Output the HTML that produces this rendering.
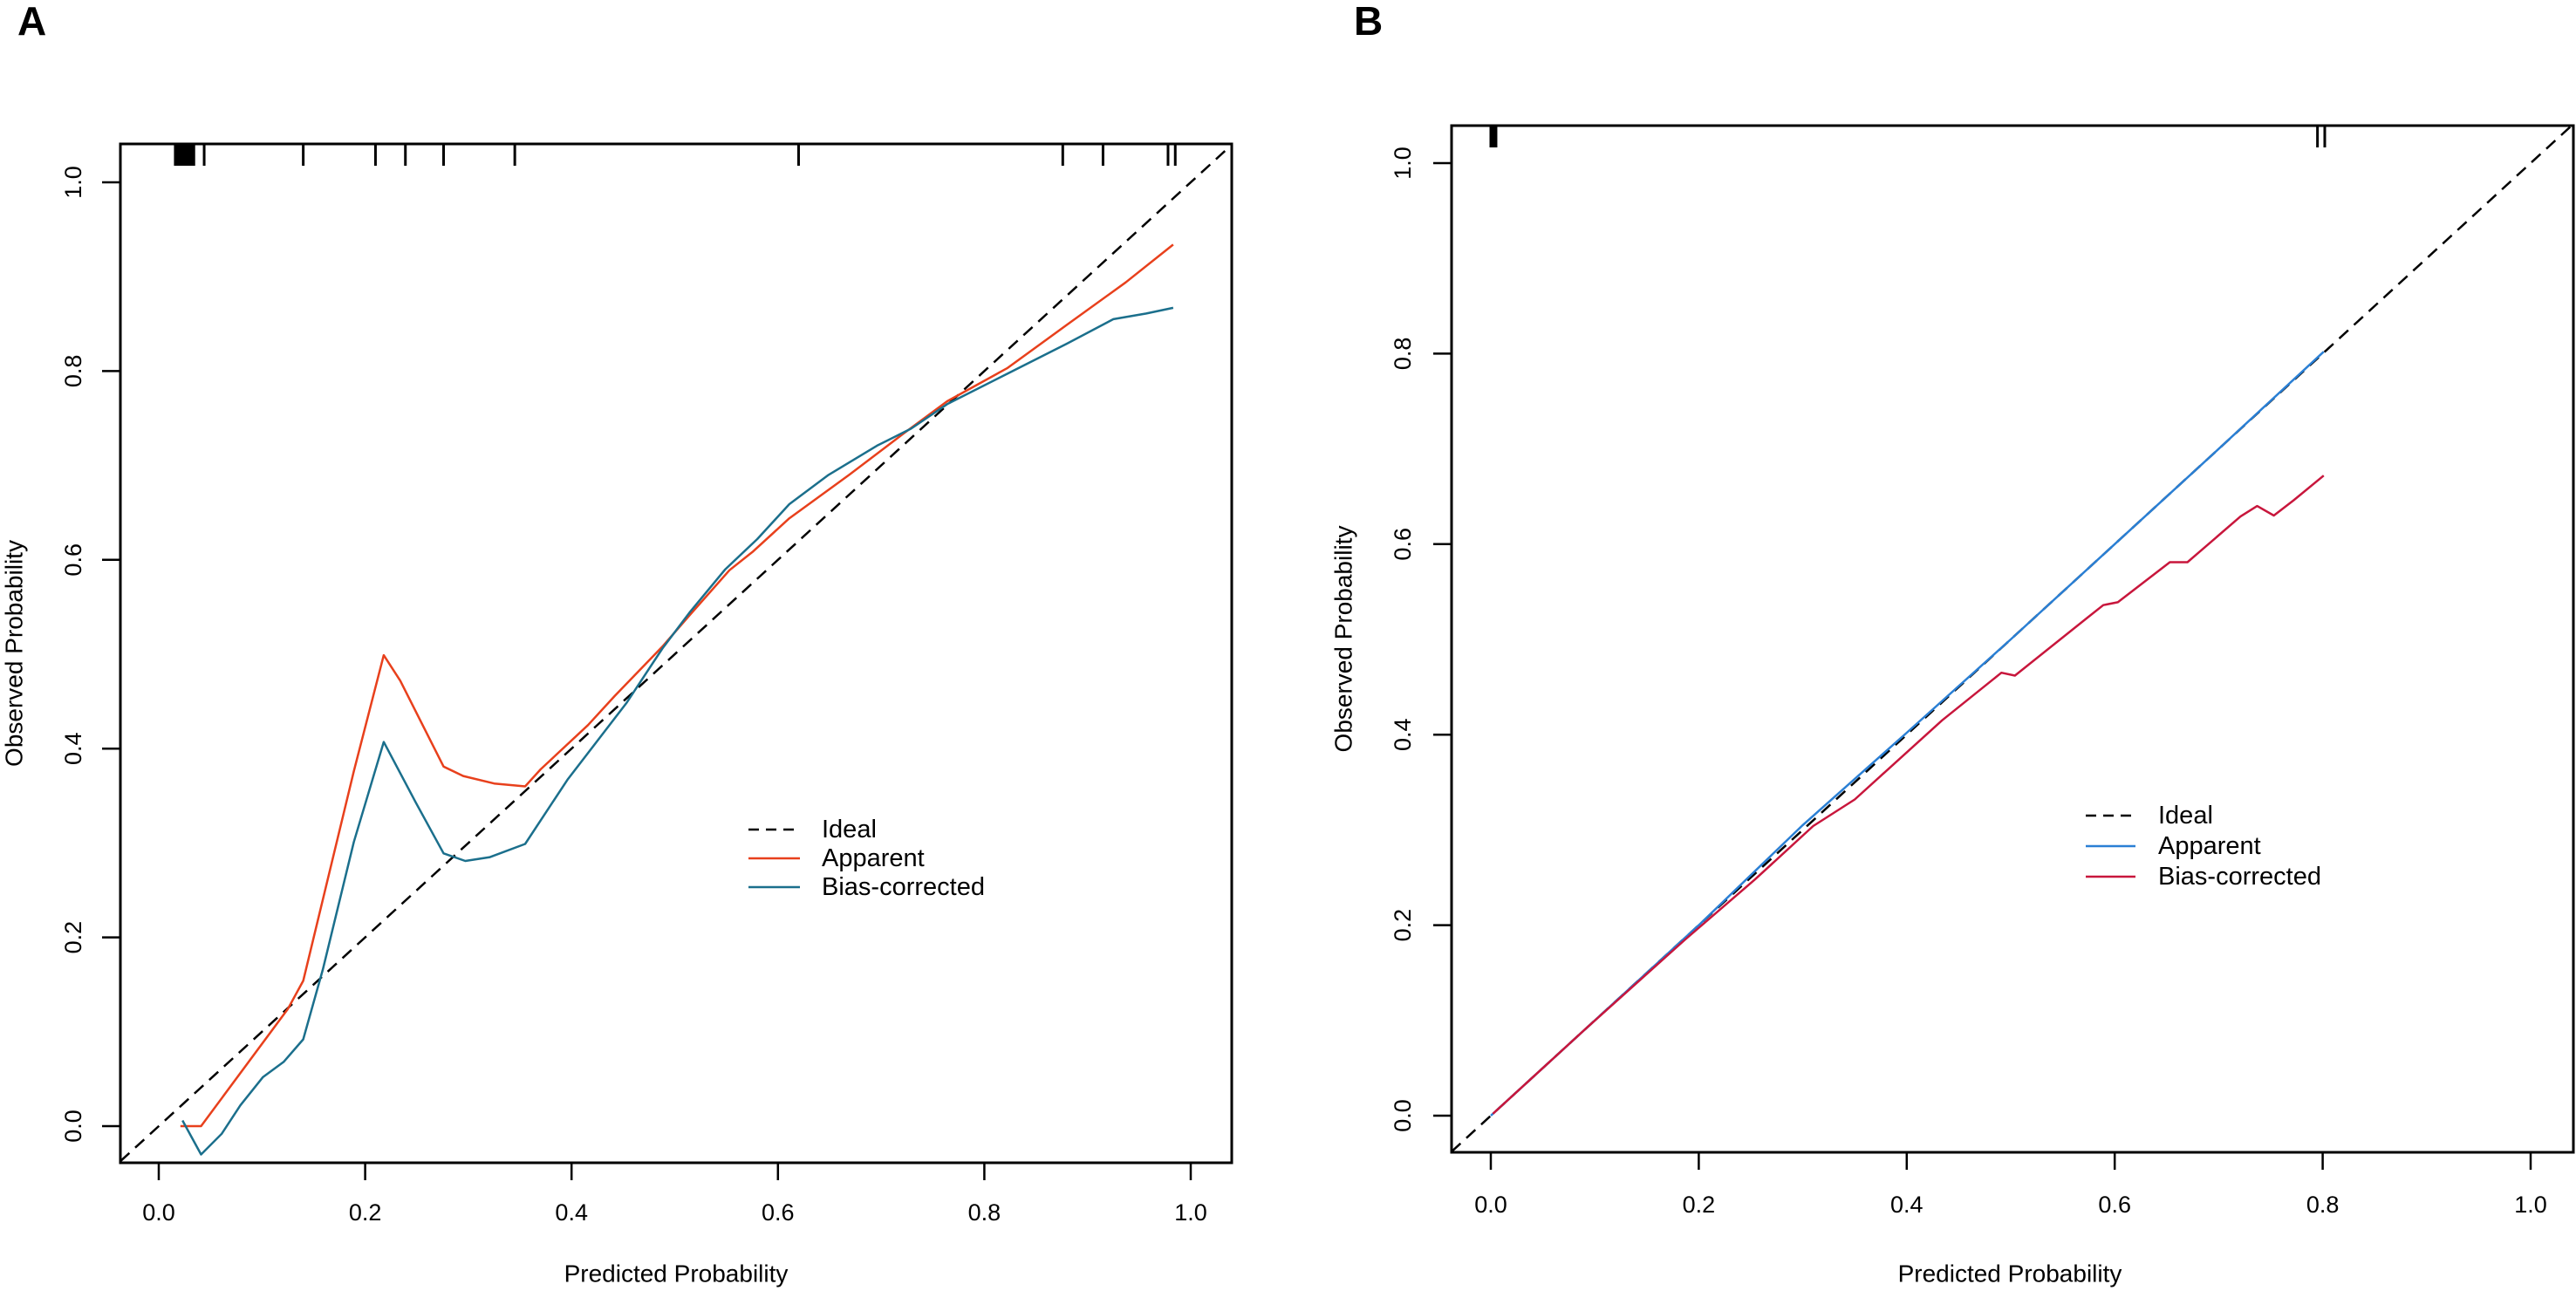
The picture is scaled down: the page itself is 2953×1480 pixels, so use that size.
<!DOCTYPE html>
<html><head><meta charset="utf-8"><style>
html,body{margin:0;padding:0;background:#fff;}
svg{display:block;font-family:"Liberation Sans",Arial,sans-serif;}
</style></head><body>
<svg id="fig" width="2953" height="1480" viewBox="0 0 2953 1480" xmlns="http://www.w3.org/2000/svg">
<rect width="2953" height="1480" fill="#fff"/>
</svg>
<script>
// ---- Panel A data ----
const xTicks = [0, 0.2, 0.4, 0.6, 0.8, 1.0];
const xTickLabels = ["0.0", "0.2", "0.4", "0.6", "0.8", "1.0"];
const yTicks = [0, 0.2, 0.4, 0.6, 0.8, 1.0];
const yTickLabels = ["0.0", "0.2", "0.4", "0.6", "0.8", "1.0"];
const legendLabels = ["Ideal", "Apparent", "Bias-corrected"];

const aApparentX = [0.021,0.041,0.125,0.140,0.189,0.218,0.234,0.276,0.295,0.325,0.355,0.370,0.416,0.442,0.488,0.515,0.553,0.576,0.611,0.669,0.722,0.764,0.822,0.880,0.937,0.983];
const aApparentY = [0.0,0.0,0.124,0.154,0.376,0.499,0.472,0.381,0.371,0.363,0.360,0.378,0.425,0.456,0.508,0.542,0.589,0.609,0.644,0.690,0.734,0.768,0.803,0.849,0.894,0.934];
const aBiasX = [0.023,0.041,0.061,0.079,0.101,0.121,0.140,0.159,0.189,0.218,0.249,0.276,0.297,0.321,0.355,0.396,0.453,0.488,0.515,0.549,0.580,0.611,0.649,0.696,0.729,0.764,0.822,0.880,0.925,0.957,0.983];
const aBiasY = [0.006,-0.030,-0.008,0.022,0.052,0.068,0.092,0.166,0.301,0.407,0.343,0.289,0.281,0.285,0.299,0.367,0.448,0.506,0.545,0.590,0.622,0.659,0.690,0.721,0.739,0.765,0.797,0.829,0.855,0.861,0.867];
const aRug = [0.016,0.018,0.020,0.022,0.024,0.026,0.028,0.030,0.032,0.034,0.044,0.140,0.210,0.239,0.276,0.345,0.620,0.876,0.915,0.978,0.985];

// ---- Panel B data ----
const bApparentX = [0.0,0.1,0.2,0.3,0.4,0.5,0.6,0.7,0.801];
const bApparentY = [0.0,0.1,0.2,0.305,0.402,0.5,0.6,0.7,0.802];
const bBiasX = [0.002,0.091,0.187,0.254,0.310,0.350,0.434,0.491,0.504,0.574,0.589,0.603,0.653,0.670,0.721,0.737,0.753,0.772,0.801];
const bBiasY = [0.002,0.091,0.185,0.248,0.304,0.332,0.415,0.465,0.462,0.523,0.536,0.539,0.581,0.581,0.629,0.640,0.630,0.646,0.672];
const bRug = [0.0,0.002,0.004,0.005,0.795,0.802];

const NS = "http://www.w3.org/2000/svg";
const svg = document.getElementById('fig');
function mk(tag, attrs, parent){
  const e = document.createElementNS(NS, tag);
  for (const k in attrs) e.setAttribute(k, attrs[k]);
  (parent||svg).appendChild(e);
  return e;
}

function panel(cfg){
  const g = mk('g', {});
  
  
  const sx = v => cfg.x0 + v * cfg.xs;
  const sy = v => cfg.y0 - v * cfg.ys;
  const lo = (cfg.left - cfg.x0) / cfg.xs, hi = (cfg.right - cfg.x0) / cfg.xs;

  const cp = mk('clipPath', {id: 'clip-' + cfg.id}, g);
  mk('rect', {x: cfg.left, y: cfg.top, width: cfg.right - cfg.left, height: cfg.bottom - cfg.top}, cp);

  const letter = mk('text', {x: cfg.letterX, y: 40, 'font-size': 46, 'font-weight': 'bold'}, g);
  letter.textContent = cfg.letter;
  
  

  const ideal = mk('line', {x1: sx(lo), y1: sy(lo), x2: sx(hi), y2: sy(hi), stroke: '#000', 'stroke-width': 2.5, 'stroke-dasharray': '14 9', 'clip-path': 'url(#clip-' + cfg.id + ')'}, g);
  
  

  cfg.series.forEach(s => {
    const pts = s.xs.map((x, i) => sx(x).toFixed(1) + ',' + sy(s.ys[i]).toFixed(1)).join(' ');
    const pl = mk('polyline', {points: pts, fill: 'none', stroke: s.color, 'stroke-width': 2.5, 'stroke-linejoin': 'round', 'clip-path': 'url(#clip-' + cfg.id + ')'}, g);
    
    
  });

  cfg.rug.forEach(r => {
    const t = mk('line', {x1: sx(r), y1: cfg.top, x2: sx(r), y2: cfg.top + 25, stroke: '#000', 'stroke-width': 3}, g);
    
    
  });

  const box = mk('rect', {x: cfg.left, y: cfg.top, width: cfg.right - cfg.left, height: cfg.bottom - cfg.top, fill: 'none', stroke: '#000', 'stroke-width': 3}, g);
  
  

  xTicks.forEach((v, i) => {
    mk('line', {x1: sx(v), y1: cfg.bottom, x2: sx(v), y2: cfg.bottom + 20, stroke: '#000', 'stroke-width': 2.5}, g);
    const t = mk('text', {x: sx(v), y: cfg.xLabelY, 'font-size': 27, 'text-anchor': 'middle', 'dominant-baseline': 'central'}, g);
    t.textContent = xTickLabels[i];
    
    
  });
  yTicks.forEach((v, i) => {
    mk('line', {x1: cfg.left, y1: sy(v), x2: cfg.left - 21, y2: sy(v), stroke: '#000', 'stroke-width': 2.5}, g);
    const t = mk('text', {x: 0, y: 0, 'font-size': 27, 'text-anchor': 'middle', 'dominant-baseline': 'central', transform: 'translate(' + cfg.yLabelX + ',' + sy(v) + ') rotate(-90)'}, g);
    t.textContent = yTickLabels[i];
    
    
  });

  const xt = mk('text', {x: cfg.xTitleX, y: 1460, 'font-size': 28, 'text-anchor': 'middle', 'dominant-baseline': 'central'}, g);
  xt.textContent = 'Predicted Probability';
  
  
  const yt = mk('text', {x: 0, y: 0, 'font-size': 28, 'text-anchor': 'middle', 'dominant-baseline': 'central', transform: 'translate(' + cfg.yTitleX + ',' + ((cfg.top + cfg.bottom) / 2) + ') rotate(-90)'}, g);
  yt.textContent = 'Observed  Probability';
  
  

  const lg = mk('g', {}, g);
  
  
  const colors = ['#000', cfg.series[0].color, cfg.series[1].color];
  legendLabels.forEach((lab, i) => {
    const y = cfg.legY + i * cfg.legDy;
    const ln = mk('line', {x1: cfg.legX1, y1: y, x2: cfg.legX2, y2: y, stroke: colors[i], 'stroke-width': 2.5}, lg);
    if (i === 0) ln.setAttribute('stroke-dasharray', '12 8');
    const t = mk('text', {x: cfg.legTextX, y: y, 'font-size': 29, 'dominant-baseline': 'central'}, lg);
    t.textContent = lab;
    
    
  });
}

panel({id: 'a', letter: 'A', letterX: 20, x0: 182, xs: 1183, y0: 1291, ys: 1082,
  left: 138, right: 1412, top: 165, bottom: 1333, xLabelY: 1390, yLabelX: 84, xTitleX: 775, yTitleX: 16,
  rug: aRug, legY: 951, legDy: 33, legX1: 858, legX2: 917, legTextX: 942,
  series: [{name: 'apparent-line', color: '#e8401c', xs: aApparentX, ys: aApparentY},
           {name: 'bias-corrected-line', color: '#1b6f8c', xs: aBiasX, ys: aBiasY}]});

panel({id: 'b', letter: 'B', letterX: 1552, x0: 1709, xs: 1192, y0: 1279, ys: 1092,
  left: 1664, right: 2950, top: 144, bottom: 1321, xLabelY: 1381, yLabelX: 1608, xTitleX: 2304, yTitleX: 1540,
  rug: bRug, legY: 935, legDy: 35, legX1: 2391, legX2: 2448, legTextX: 2474,
  series: [{name: 'apparent-line', color: '#2a7fd4', xs: bApparentX, ys: bApparentY},
           {name: 'bias-corrected-line', color: '#c8163c', xs: bBiasX, ys: bBiasY}]});
</script>
</body></html>
